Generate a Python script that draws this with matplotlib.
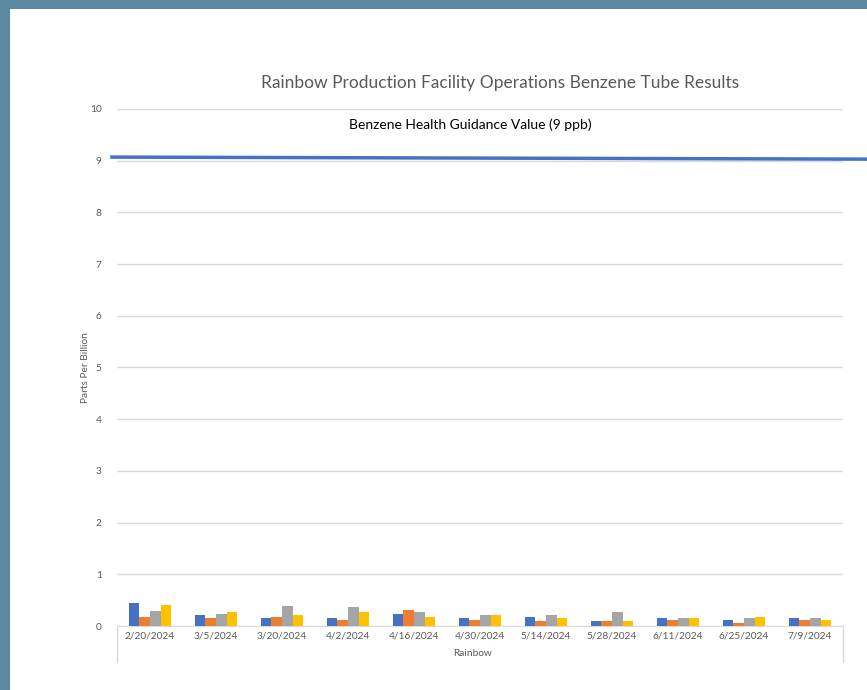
import numpy as np
import matplotlib.pyplot as plt
import matplotlib.transforms as mtransforms

plt.rcParams['font.family'] = ['Lato', 'DejaVu Sans']

# Datas de amostragem e resultados (ppb) de cada tubo
datas = ['2/20/2024', '3/5/2024', '3/20/2024', '4/2/2024', '4/16/2024', '4/30/2024',
         '5/14/2024', '5/28/2024', '6/11/2024', '6/25/2024', '7/9/2024']
tubo_1 = [0.45, 0.21, 0.15, 0.15, 0.24, 0.15, 0.175, 0.09, 0.15, 0.12, 0.15]
tubo_2 = [0.175, 0.15, 0.175, 0.12, 0.30, 0.12, 0.09, 0.09, 0.12, 0.065, 0.12]
tubo_3 = [0.29, 0.24, 0.39, 0.36, 0.27, 0.21, 0.21, 0.27, 0.15, 0.15, 0.15]
tubo_4 = [0.415, 0.27, 0.21, 0.27, 0.175, 0.21, 0.15, 0.09, 0.15, 0.175, 0.12]
guia = 9
cores = ['#4472C4', '#ED7D31', '#A5A5A5', '#FFC000']

fig = plt.figure(figsize=(8.67, 6.9), dpi=100, facecolor='white')
# bordas azuladas (esquerda e topo)
borda = '#5b87a1'
fig.patches.append(plt.Rectangle((0, 0), 10 / 867, 1, transform=fig.transFigure,
                                 facecolor=borda, edgecolor='none'))
fig.patches.append(plt.Rectangle((0, 1 - 9 / 690), 1, 9 / 690, transform=fig.transFigure,
                                 facecolor=borda, edgecolor='none'))

ax = fig.add_axes([117 / 867, 64 / 690, 726 / 867, 517 / 690])
ax.set_facecolor('none')
ax.set_zorder(2)

x = np.arange(len(datas))
w = 0.162
for i, serie in enumerate([tubo_1, tubo_2, tubo_3, tubo_4]):
    ax.bar(x + (i - 1.5) * w, serie, width=w, color=cores[i], zorder=3)

ax.set_xlim(-0.5, len(datas) - 0.5)
ax.set_ylim(0, 10)
ax.set_yticks(range(0, 11))
ax.set_xticks(x)
ax.set_xticklabels(datas)
ax.tick_params(axis='both', length=0, labelsize=7.3, labelcolor='#595959')
ax.tick_params(axis='y', pad=11)
ax.tick_params(axis='x', pad=4)
ax.grid(axis='y', color='#d9d9d9', linewidth=1, zorder=0)
for s in ['top', 'right', 'left']:
    ax.spines[s].set_visible(False)
ax.spines['bottom'].set_color('#d9d9d9')

# caixa do eixo de categorias com dois níveis
for xa in [0, 1]:
    ax.plot([xa, xa], [0, -36 / 517], transform=ax.transAxes, color='#d9d9d9',
            linewidth=1, clip_on=False)
ax.text(0.49, -28 / 517, 'Rainbow', transform=ax.transAxes, ha='center', va='center',
        fontsize=7.3, color='#595959')

ax.set_ylabel('Parts Per Billion', fontsize=7.3, color='#595959', labelpad=0)

# linha do valor guia
trans = mtransforms.blended_transform_factory(ax.transAxes, ax.transData)
ax.plot([-0.007, 1.035], [guia + 0.07, guia + 0.03], transform=trans, color='#4472C4',
        linewidth=2.5, clip_on=False, zorder=4)
ax.text(0.487, 9.7, 'Benzene Health Guidance Value (9 ppb)', transform=trans,
        ha='center', va='center', fontsize=10, color='black')

fig.text(500 / 867, 1 - 83 / 690, 'Rainbow Production Facility Operations Benzene Tube Results',
         ha='center', va='center', fontsize=12.5, color='#595959')

fig.savefig('out.png', dpi=100)
